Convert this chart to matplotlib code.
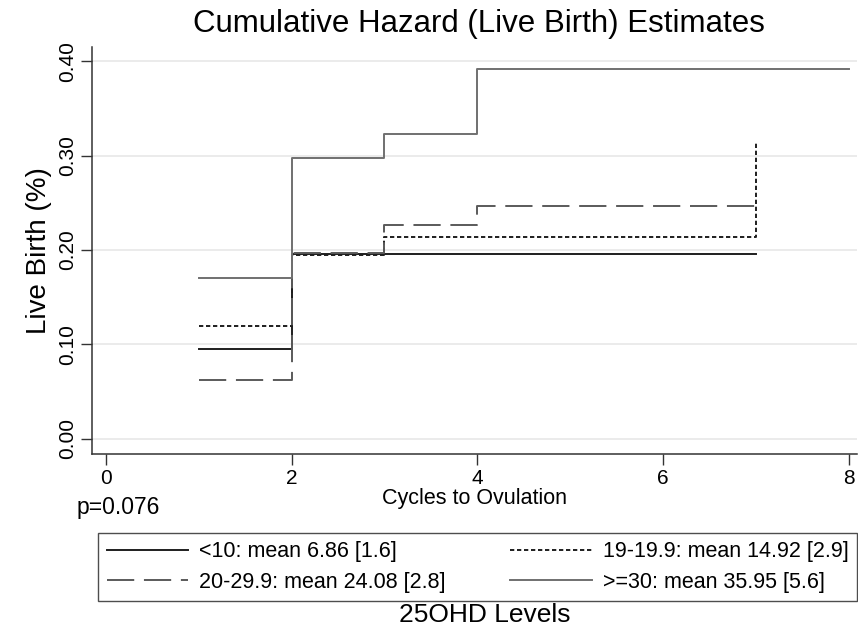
import matplotlib
matplotlib.use('Agg')
import matplotlib.pyplot as plt
from matplotlib.lines import Line2D

plt.rcParams['font.family'] = ['Liberation Sans', 'DejaVu Sans']

# step points (cycle, cumulative hazard)
x_lt10 = [1, 2, 7]
y_lt10 = [0.095, 0.196, 0.196]
x_19 = [1, 2, 3, 7]
y_19 = [0.120, 0.195, 0.214, 0.315]
x_20 = [1, 2, 3, 4, 7]
y_20 = [0.062, 0.197, 0.226, 0.247, 0.247]
x_30 = [1, 2, 3, 4, 8]
y_30 = [0.170, 0.297, 0.323, 0.392, 0.392]

labels = ['<10: mean 6.86 [1.6]', '19-19.9: mean 14.92 [2.9]',
          '20-29.9: mean 24.08 [2.8]', '>=30: mean 35.95 [5.6]']
yticks = [0.0, 0.1, 0.2, 0.3, 0.4]
xticks = [0, 2, 4, 6, 8]

fig = plt.figure(figsize=(8.58, 6.27), dpi=100)
ax = fig.add_axes([0.1072, 0.2759, 0.8915, 0.6491])

styles = [
    dict(color='#1e1e1e', lw=1.4, ls='-'),
    dict(color='#1e1e1e', lw=1.4, ls=(0, (2.2, 1.4))),
    dict(color='#5a5a5a', lw=1.4, ls=(0, (14, 5))),
    dict(color='#707070', lw=1.4, ls='-'),
]
series = [(x_lt10, y_lt10), (x_19, y_19), (x_20, y_20), (x_30, y_30)]
for (xs, ys), st in zip(series, styles):
    ax.plot(xs, ys, drawstyle='steps-post', **st)

ax.set_xlim(-0.15, 8.09)
ax.set_ylim(-0.016, 0.415)
ax.set_yticks(yticks)
ax.set_yticklabels([f'{v:.2f}' for v in yticks], rotation=90, va='center', fontsize=15)
ax.set_xticks(xticks)
ax.set_xticklabels([str(v) for v in xticks], fontsize=15)
ax.tick_params(axis='both', length=8, width=1, color='#333333', pad=3)
ax.grid(axis='y', color='#e8e8e8', lw=1.2)
ax.set_axisbelow(True)
for s in ['top', 'right']:
    ax.spines[s].set_visible(False)
for s in ['left', 'bottom']:
    ax.spines[s].set_color('#333333')
    ax.spines[s].set_linewidth(1.1)

ax.set_ylabel('Live Birth (%)', fontsize=20, labelpad=4)
ax.set_xlabel('Cycles to Ovulation', fontsize=15.5, labelpad=0)
fig.text(0.558, 0.962, 'Cumulative Hazard (Live Birth) Estimates', ha='center', va='center', fontsize=22.5)
fig.text(0.0897, 0.19, 'p=0.076', ha='left', va='center', fontsize=16.5)

handles = [Line2D([], [], **st) for st in styles]
# legend fills column-first; reorder so rows read <10, 19-19.9 / 20-29.9, >=30
order = [0, 2, 1, 3]
leg = fig.legend([handles[i] for i in order], [labels[i] for i in order], ncol=2,
                 loc='center', bbox_to_anchor=(0.1142, 0.0415, 0.8846, 0.1085), mode='expand',
                 fontsize=15.5, handlelength=3.8, frameon=True, fancybox=False,
                 borderaxespad=0, borderpad=0.4, columnspacing=1.0, handletextpad=0.5,
                 labelspacing=0.45)
leg.get_frame().set_edgecolor('#222222')
leg.get_frame().set_linewidth(1.0)
fig.text(0.565, 0.019, '25OHD Levels', ha='center', va='center', fontsize=19)

fig.savefig('out.png', dpi=100)
